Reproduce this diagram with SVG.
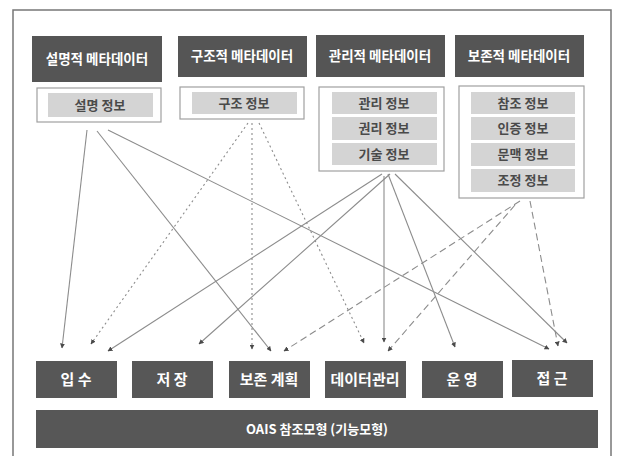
<svg xmlns="http://www.w3.org/2000/svg" width="617" height="456" viewBox="0 0 617 456">
<defs>
<style>
.hdr{fill:#555;}
.hdrt{fill:#fff;font-family:"Noto Sans CJK KR","Noto Sans",sans-serif;font-size:13.5px;font-weight:bold;text-anchor:middle;}
.sub{fill:#fff;stroke:#a0a0a0;stroke-width:1.2;}
.row{fill:#d4d4d4;}
.rowt{fill:#4a4a4a;font-family:"Noto Sans CJK KR","Noto Sans",sans-serif;font-size:13px;font-weight:bold;text-anchor:middle;}
.fn{fill:#575757;}
.fnt{fill:#fff;font-family:"Noto Sans CJK KR","Noto Sans",sans-serif;font-size:15px;font-weight:bold;text-anchor:middle;}
.c{stroke:#8c8c8c;stroke-width:1.1;fill:none;marker-end:url(#ah);}
.dot{stroke-dasharray:2 3;}
.dash{stroke-dasharray:7 4;}
</style>
<marker id="ah" viewBox="0 0 10 10" refX="9" refY="5" markerWidth="5" markerHeight="5" orient="auto" markerUnits="userSpaceOnUse">
<path d="M0,0 L10,5 L0,10 z" fill="#4a4a4a"/>
</marker>
</defs>
<rect x="0" y="0" width="617" height="456" fill="#fff"/>
<rect x="13" y="10" width="598" height="452" fill="none" stroke="#777" stroke-width="1.5"/>

<g id="descriptive">
<rect class="hdr" x="32" y="36" width="130" height="46"/>
<text class="hdrt" x="97" y="64">설명적 메타데이터</text>
<rect class="sub" x="37" y="88" width="124" height="34"/>
<rect class="row" x="48" y="93" width="105" height="24"/>
<text class="rowt" x="100" y="110">설명 정보</text>
</g>

<g id="structural">
<rect class="hdr" x="178" y="36" width="129" height="41"/>
<text class="hdrt" x="242" y="61">구조적 메타데이터</text>
<rect class="sub" x="180" y="87" width="124" height="32"/>
<rect class="row" x="192" y="92" width="105" height="22"/>
<text class="rowt" x="244" y="108">구조 정보</text>
</g>

<g id="administrative">
<rect class="hdr" x="316" y="35" width="129" height="42"/>
<text class="hdrt" x="380" y="61">관리적 메타데이터</text>
<rect class="sub" x="319" y="87" width="125" height="84"/>
<rect class="row" x="332" y="92" width="105" height="22"/>
<text class="rowt" x="384" y="108">관리 정보</text>
<rect class="row" x="332" y="117" width="105" height="23"/>
<text class="rowt" x="384" y="133">권리 정보</text>
<rect class="row" x="332" y="143" width="105" height="22"/>
<text class="rowt" x="384" y="159">기술 정보</text>
</g>

<g id="preservation">
<rect class="hdr" x="455" y="35" width="129" height="42"/>
<text class="hdrt" x="519" y="61">보존적 메타데이터</text>
<rect class="sub" x="459" y="86" width="125" height="112"/>
<rect class="row" x="471" y="92" width="104" height="22"/>
<text class="rowt" x="523" y="108">참조 정보</text>
<rect class="row" x="471" y="117" width="104" height="23"/>
<text class="rowt" x="523" y="133">인증 정보</text>
<rect class="row" x="471" y="143" width="104" height="23"/>
<text class="rowt" x="523" y="159">문맥 정보</text>
<rect class="row" x="471" y="169" width="104" height="23"/>
<text class="rowt" x="523" y="185">조정 정보</text>
</g>

<g id="connectors">
<line class="c" x1="87" y1="130" x2="62" y2="348"/>
<line class="c" x1="97" y1="131" x2="271" y2="351"/>
<line class="c" x1="108" y1="130" x2="549" y2="349"/>

<line class="c dot" x1="248" y1="123" x2="91" y2="344"/>
<line class="c dot" x1="252" y1="123" x2="252" y2="349"/>
<line class="c dot" x1="259" y1="123" x2="364" y2="343"/>

<line class="c" x1="382" y1="174" x2="108" y2="351"/>
<line class="c" x1="390" y1="174" x2="199" y2="344"/>
<line class="c" x1="384" y1="176" x2="384" y2="342"/>
<line class="c" x1="388" y1="174" x2="455" y2="347"/>
<line class="c" x1="395" y1="174" x2="567" y2="343"/>

<line class="c dash" x1="520" y1="201" x2="284" y2="351"/>
<line class="c dash" x1="515" y1="205" x2="388" y2="351"/>
<line class="c dash" x1="530" y1="201" x2="558" y2="346"/>
</g>

<g id="ingest"><rect class="fn" x="36" y="361" width="81" height="37"/><text class="fnt" x="76" y="385">입 수</text></g>
<g id="storage"><rect class="fn" x="132" y="361" width="81" height="37"/><text class="fnt" x="172" y="385">저 장</text></g>
<g id="planning"><rect class="fn" x="229" y="361" width="81" height="37"/><text class="fnt" x="269" y="385">보존 계획</text></g>
<g id="datamgmt"><rect class="fn" x="325" y="361" width="81" height="37"/><text class="fnt" x="365" y="385">데이터관리</text></g>
<g id="admin"><rect class="fn" x="422" y="361" width="81" height="37"/><text class="fnt" x="462" y="385">운 영</text></g>
<g id="access"><rect class="fn" x="512" y="360" width="81" height="37"/><text class="fnt" x="552" y="384">접 근</text></g>
<g id="oais"><rect class="fn" x="36" y="410" width="562" height="38"/><text class="fnt" x="317" y="434" style="font-size:13px">OAIS 참조모형 (기능모형)</text></g>
</svg>
